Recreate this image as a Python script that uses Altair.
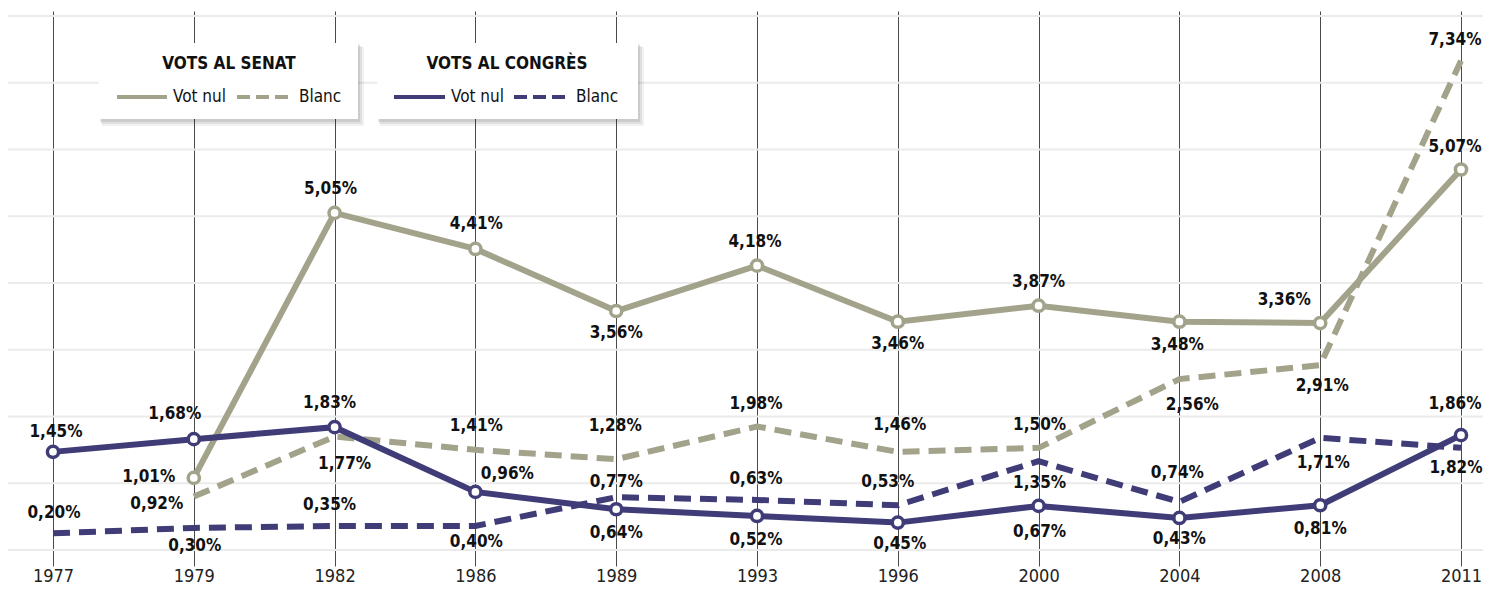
import altair as alt
import pandas as pd

# ---------------- data ----------------
YEARS = ["1977", "1979", "1982", "1986", "1989", "1993", "1996", "2000", "2004", "2008", "2011"]

SENAT_NUL = [None, 1.08, 5.05, 4.51, 3.58, 4.26, 3.42, 3.66, 3.42, 3.40, 5.70]
SENAT_NUL_TXT = [None, "1,01%", "5,05%", "4,41%", "3,56%", "4,18%", "3,46%", "3,87%", "3,48%", "3,36%", "5,07%"]

SENAT_BLANC = [None, 0.80, 1.70, 1.50, 1.36, 1.85, 1.47, 1.53, 2.56, 2.77, 7.33]
SENAT_BLANC_TXT = [None, "0,92%", "1,77%", "1,41%", "1,28%", "1,98%", "1,46%", "1,50%", "2,56%", "2,91%", "7,34%"]

CONGRES_NUL = [1.47, 1.66, 1.84, 0.87, 0.61, 0.51, 0.41, 0.66, 0.48, 0.67, 1.72]
CONGRES_NUL_TXT = ["1,45%", "1,68%", "1,83%", "0,96%", "0,64%", "0,52%", "0,45%", "0,67%", "0,43%", "0,81%", "1,86%"]

CONGRES_BLANC = [0.25, 0.33, 0.36, 0.36, 0.79, 0.75, 0.67, 1.33, 0.72, 1.68, 1.53]
CONGRES_BLANC_TXT = ["0,20%", "0,30%", "0,35%", "0,40%", "0,77%", "0,63%", "0,53%", "1,35%", "0,74%", "1,71%", "1,82%"]

GRID_VALUES = [0, 1, 2, 3, 4, 5, 6, 7, 8]

LEGEND_TITLES = ["VOTS AL SENAT", "VOTS AL CONGRÈS"]
LEGEND_ITEMS = ["Vot nul", "Blanc"]

# ---------------- style ----------------
SENAT_COLOR = "#a3a38b"
CONGRES_COLOR = "#3f3c78"
TEXT_COLOR = "#111111"
FONT = "DejaVu Sans Condensed, DejaVu Sans"
W, H = 1408, 555
PAD_L, PAD_R = 45, 22
DASH = [17, 9]

# label placement (pixel offsets from each point), style only
LABEL_OFFSETS = {
    "senat_nul": [None, (-45, -1), (-4, -24), (1, -25), (0, 22), (-2, -24), (0, 22), (0, -24), (-2, 23), (-36, -23), (-6, -23)],
    "senat_blanc": [None, (-37, 7), (10, 27), (1, -24), (-1, -33), (-1, -22), (2, -27), (1, -23), (13, 26), (2, 21), (-6, -21)],
    "congres_nul": [(3, -20), (-19, -25), (-5, -24), (32, -18), (0, 24), (-1, 24), (2, 21), (1, 26), (0, 21), (0, 24), (-6, -31)],
    "congres_blanc": [(1, -20), (1, 18), (-5, -21), (1, 16), (0, -15), (-1, -21), (-10, -23), (1, 22), (-2, -29), (3, 25), (-5, 20)],
}

x_enc = alt.X(
    "year:O",
    scale=alt.Scale(type="point", padding=0, domain=YEARS),
    axis=alt.Axis(
        title=None, labelAngle=0, labelFont=FONT, labelFontSize=18, labelColor="#222222",
        ticks=False, domain=False, grid=True, gridColor="#4a4a4a", gridWidth=1,
        labelPadding=1,
    ),
)
y_scale = alt.Scale(domain=[-0.24, 8.075], nice=False, zero=False)


def series_df(values, texts):
    rows = [
        {"year": yr, "v": v, "t": t}
        for yr, v, t in zip(YEARS, values, texts)
        if v is not None
    ]
    return pd.DataFrame(rows)


one = pd.DataFrame({"k": [0]})
layers = []

# horizontal light gridlines (extend over the whole width)
grid_df = pd.DataFrame({"g": GRID_VALUES})
layers.append(
    alt.Chart(grid_df).mark_rule(color="#ebebeb", strokeWidth=2).encode(
        y=alt.Y("g:Q", scale=y_scale, axis=None),
        x=alt.value(-PAD_L), x2=alt.value(W + PAD_R),
    )
)

# x axis carrier (vertical grid + year labels)
axis_df = pd.DataFrame({"year": YEARS, "v": [0] * len(YEARS)})
layers.append(
    alt.Chart(axis_df).mark_point(opacity=0).encode(
        x=x_enc, y=alt.Y("v:Q", scale=y_scale, axis=None)
    )
)

# legend boxes with soft shadows
boxes = [(46, 305, 32, 108), (324, 585, 32, 108)]
for (x1, x2, y1, y2) in boxes:
    for (ox, oy, ex, ey, op) in [(3, 4, 6, 7, 0.05), (2, 3, 4, 5, 0.07), (1, 1, 2, 3, 0.09)]:
        layers.append(
            alt.Chart(one).mark_rect(color="#000000", opacity=op).encode(
                x=alt.value(x1 + ox), x2=alt.value(x2 + ex),
                y=alt.value(y1 + oy), y2=alt.value(y2 + ey),
            )
        )
    layers.append(
        alt.Chart(one).mark_rect(color="#ffffff", opacity=1).encode(
            x=alt.value(x1), x2=alt.value(x2), y=alt.value(y1), y2=alt.value(y2)
        )
    )

legend_specs = [
    (LEGEND_TITLES[0], 176, SENAT_COLOR, (64, 114), 120, (184, 235), 246),
    (LEGEND_TITLES[1], 454, CONGRES_COLOR, (341, 392), 398, (461, 512), 523),
]
for title, tx, col, solid, t1x, dashed, t2x in legend_specs:
    layers.append(
        alt.Chart(one).mark_text(
            text=title, font=FONT, fontSize=17, fontWeight="bold", color=TEXT_COLOR,
            align="center", baseline="middle",
        ).encode(x=alt.value(tx), y=alt.value(53))
    )
    layers.append(
        alt.Chart(one).mark_rule(color=col, strokeWidth=4).encode(
            x=alt.value(solid[0]), x2=alt.value(solid[1]), y=alt.value(86)
        )
    )
    layers.append(
        alt.Chart(one).mark_rule(color=col, strokeWidth=4, strokeDash=[13, 6]).encode(
            x=alt.value(dashed[0]), x2=alt.value(dashed[1]), y=alt.value(86)
        )
    )
    layers.append(
        alt.Chart(one).mark_text(
            text=LEGEND_ITEMS[0], font=FONT, fontSize=17, color=TEXT_COLOR,
            align="left", baseline="middle",
        ).encode(x=alt.value(t1x), y=alt.value(86))
    )
    layers.append(
        alt.Chart(one).mark_text(
            text=LEGEND_ITEMS[1], font=FONT, fontSize=17, color=TEXT_COLOR,
            align="left", baseline="middle",
        ).encode(x=alt.value(t2x), y=alt.value(86))
    )

series = [
    ("senat_blanc", SENAT_BLANC, SENAT_BLANC_TXT, SENAT_COLOR, True),
    ("senat_nul", SENAT_NUL, SENAT_NUL_TXT, SENAT_COLOR, False),
    ("congres_blanc", CONGRES_BLANC, CONGRES_BLANC_TXT, CONGRES_COLOR, True),
    ("congres_nul", CONGRES_NUL, CONGRES_NUL_TXT, CONGRES_COLOR, False),
]

for key, vals, txts, col, dashed in series:
    df = series_df(vals, txts)
    line_kwargs = dict(color=col, strokeWidth=6)
    if dashed:
        line_kwargs["strokeDash"] = DASH
    layers.append(
        alt.Chart(df).mark_line(**line_kwargs).encode(
            x=x_enc, y=alt.Y("v:Q", scale=y_scale, axis=None)
        )
    )
    if not dashed:
        layers.append(
            alt.Chart(df).mark_point(
                shape="circle", filled=True, fill="#ffffff", stroke=col,
                strokeWidth=3.5, size=125, opacity=1,
            ).encode(x=x_enc, y=alt.Y("v:Q", scale=y_scale, axis=None))
        )

for key, vals, txts, col, dashed in series:
    for yr, v, t, off in zip(YEARS, vals, txts, LABEL_OFFSETS[key]):
        if v is None:
            continue
        d = pd.DataFrame({"year": [yr], "v": [v], "t": [t]})
        layers.append(
            alt.Chart(d).mark_text(
                dx=off[0], dy=off[1], font=FONT, fontSize=17, fontWeight="bold",
                color=TEXT_COLOR, align="center", baseline="middle",
            ).encode(
                x=x_enc, y=alt.Y("v:Q", scale=y_scale, axis=None), text="t:N"
            )
        )

chart = (
    alt.layer(*layers)
    .properties(
        width=W, height=H,
        padding={"left": PAD_L, "right": PAD_R, "top": 3, "bottom": 20},
        autosize=alt.AutoSizeParams(type="none"),
        background="#ffffff",
    )
    .configure_view(stroke=None)
)

chart.save("out.html", embed_options={"renderer": "svg", "actions": False})
